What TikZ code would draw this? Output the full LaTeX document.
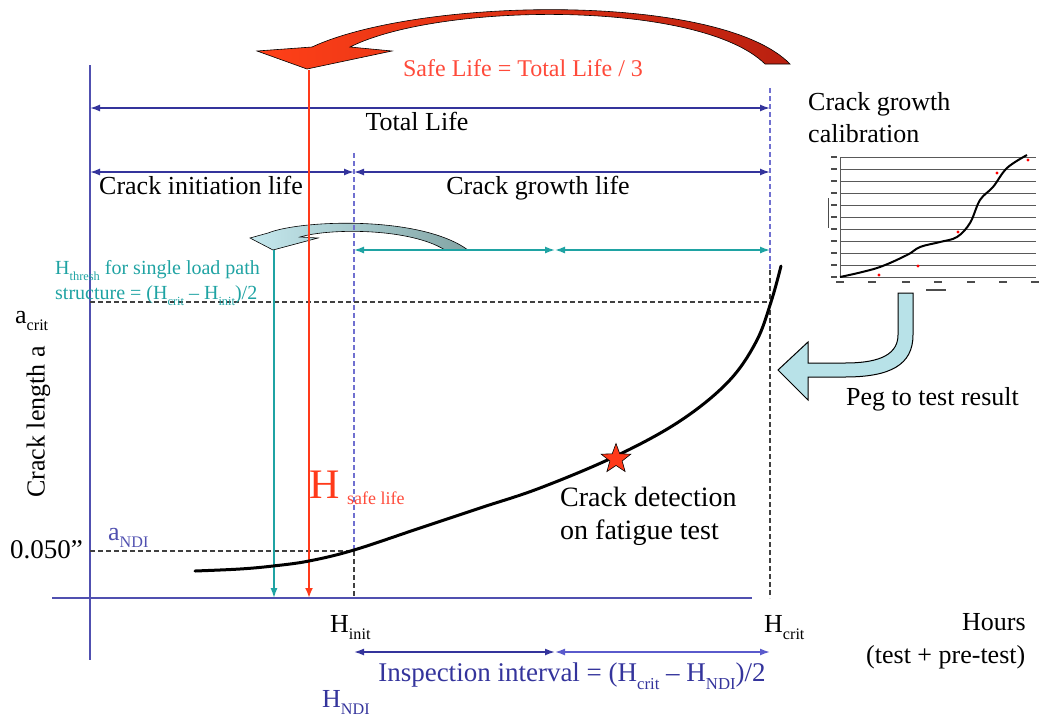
\documentclass[tikz,border=0pt]{standalone}
\usepackage{fontspec}
\setmainfont{Liberation Serif}
\usepackage{graphicx}
\usetikzlibrary{arrows.meta,shapes.geometric}
\definecolor{axblue}{HTML}{5050B0}
\definecolor{dimblue}{HTML}{34349C}
\definecolor{litblue}{HTML}{5A5ACC}
\definecolor{dashblue}{HTML}{7070D0}
\definecolor{tealc}{HTML}{1FA3A3}
\definecolor{redc}{HTML}{FF3A1A}
\definecolor{redtxt}{HTML}{FF4A3A}
\newcommand{\fs}[1]{\fontsize{#1}{#1}\selectfont}
\newcommand{\lsub}[1]{\raisebox{-0.28em}{\scalebox{0.62}{#1}}}
\begin{document}
\begin{tikzpicture}[x=1pt,y=-1pt,
  txt/.style={inner sep=0pt, text height=0.7em, text depth=0.2em, font=\fs{26}},
  dimline/.style={dimblue, line width=1.6pt, {Latex[length=10pt,width=7pt]}-{Latex[length=10pt,width=7pt]}},
  tealdim/.style={tealc, line width=1.4pt, {Latex[length=10pt,width=7pt]}-{Latex[length=10pt,width=7pt]}},
  axis/.style={axblue, line width=1.5pt},
  bdash/.style={dashblue, line width=1.1pt, dash pattern=on 5pt off 3pt},
  kdash/.style={black!75, line width=1.1pt, dash pattern=on 5pt off 3pt},
  grid/.style={black!65, line width=0.9pt},
  tick/.style={black!70, line width=1.3pt}
]
\useasboundingbox (0,0) rectangle (1039,721);

% ---- coordinates
\coordinate (ytop) at (90,65);   \coordinate (ybot) at (90,660);
\coordinate (xl) at (52,598);    \coordinate (xr) at (752,598);
\coordinate (TL1) at (90,108);   \coordinate (TL2) at (770,108);
\coordinate (CI1) at (90,172);   \coordinate (CIm) at (354,172); \coordinate (CG2) at (770,172);
\coordinate (T1) at (354,250);   \coordinate (Tm) at (555,250);  \coordinate (T2) at (770,250);
\coordinate (I1) at (354,652);   \coordinate (Im) at (555,652);  \coordinate (I2) at (770,652);
\coordinate (hitop) at (354,153); \coordinate (himid) at (354,551); \coordinate (hibot) at (354,598);
\coordinate (hctop) at (770,88);  \coordinate (hcmid) at (770,270); \coordinate (hcbot) at (770,598);
\coordinate (ac1) at (90,302);   \coordinate (ac2) at (770,302);
\coordinate (an1) at (90,551);
\coordinate (rstop) at (309,70); \coordinate (rsbot) at (309,598);
\coordinate (thtop) at (274,250); \coordinate (thbot) at (274,598);

% ---- teal curved arrow
\shadedraw[left color={rgb,255:red,197;green,232;blue,238}, right color={rgb,255:red,130;green,164;blue,164}, draw=black, line width=0.6pt]
  (250,238) -- (268,233) .. controls (300,220) and (420,215) .. (468,250)
  -- (445,250) .. controls (410,228) and (330,228) .. (300,237)
  -- (318,238) -- (273,250) -- cycle;

% ---- axes
\draw[axis] (ytop) -- (ybot);
\draw[axis] (xl) -- (xr);

% ---- dashed guides
\draw[bdash] (hitop) -- (himid);
\draw[kdash] (himid) -- (hibot);
\draw[bdash] (hctop) -- (hcmid);
\draw[kdash] (hcmid) -- (hcbot);
\draw[kdash] (ac1) -- (ac2);
\draw[kdash] (an1) -- (himid);

% ---- dimension arrows
\draw[dimline] (TL1) -- (TL2);
\draw[dimline] (CI1) -- (CIm);
\draw[dimline] (CIm) -- (CG2);
\draw[tealdim] (T1) -- (Tm);
\draw[tealdim] (Tm) -- (T2);
\draw[dimline] (I1) -- (Im);
\draw[dimline, litblue] (Im) -- (I2);

% ---- vertical arrows
\draw[tealc, line width=1.4pt, -{Latex[length=10pt,width=7pt]}] (thtop) -- (thbot);
\draw[redc, line width=2.4pt, -{Latex[length=10pt,width=8pt]}] (rstop) -- (rsbot);

% ---- crack growth curve
\draw[black, line width=3pt, line cap=round] plot[smooth, tension=0.6] coordinates {
  (195,571) (240,569) (273,566) (309,561) (354,550) (420,528) (480,508)
  (540,488) (616,456) (680,421) (728,382) (756,342) (771,302) (781,266)};
\node[star, star points=5, star point ratio=2.4, minimum size=31pt, inner sep=0pt,
  fill=redc, draw=black, line width=0.6pt] (star) at (616,459) {};

% ---- red curved arrow
\shadedraw[left color={rgb,255:red,255;green,64;blue,24}, right color={rgb,255:red,185;green,32;blue,16}, draw=black, line width=0.6pt]
  (257,51) -- (312,47) .. controls (420,-3) and (720,-8) .. (790,64)
  -- (765,64) .. controls (700,0) and (440,2) .. (350,47)
  -- (392,51) -- (307,69) -- cycle;

% ---- peg arrow
\draw[fill={rgb,255:red,184;green,226;blue,232}, draw=black, line width=1pt]
  (898,293) -- (898,335) .. controls (898,358) and (872,363) .. (845,363)
  -- (808,363) -- (808,342) -- (778,370) -- (808,400) -- (808,377) -- (845,377)
  .. controls (890,377) and (913,365) .. (913,335) -- (913,293) -- cycle;

% ---- inset calibration chart
\foreach \i in {0,...,10} {
  \draw[grid] (840,157+12*\i) -- (1036,157+12*\i);
  \draw[tick] (831,157+12*\i) -- (837,157+12*\i);
}
\draw[grid] (840,157) -- (840,278);
\foreach \x in {840,872,906,938,971,1003,1035} {
  \draw[tick] (\x-4,282) -- (\x+4,282);
}
\draw[tick] (926,290) -- (946,290);
\draw[black!70, line width=1pt] (828,198) -- (828,228);
\draw[black, line width=2pt] plot[smooth, tension=0.6] coordinates {
  (840,277) (877,268) (907,255) (920,247) (940,242) (957,237) (970,223)
  (980,200) (993,187) (1007,168) (1027,155)};
\foreach \p in {(879,275),(918,266),(958,232),(997,173),(1028,160)} {
  \fill[red] \p circle (1.6pt);
}

% ---- texts
\node[txt, font=\fs{24}, text=redtxt] (safelife) at (523,74) {Safe Life = Total Life / 3};
\node[txt] (total) at (417,128) {Total Life};
\node[txt] (cil) at (201,192) {Crack initiation life};
\node[txt] (cgl) at (538,192) {Crack growth life};
\node[txt, anchor=west] (cal1) at (808,108) {Crack growth};
\node[txt, anchor=west] (cal2) at (808,140) {calibration};
\node[txt, anchor=west] (peg) at (846,403) {Peg to test result};
\node[txt, anchor=west, font=\fs{28}] (det1) at (560,504) {Crack detection};
\node[txt, anchor=west, font=\fs{28}] (det2) at (560,537) {on fatigue test};
\node[txt, anchor=west] (hours) at (962,628) {Hours};
\node[txt, anchor=west] (pretest) at (866,661) {(test + pre-test)};
\node[txt, anchor=west] (hinit) at (330,630) {H\lsub{init}};
\node[txt, anchor=west] (hcrit) at (764,630) {H\lsub{crit}};
\node[txt, anchor=west, text=dimblue] (hndi) at (322,705) {H\lsub{NDI}};
\node[txt, font=\fs{27}, text=dimblue] (insp) at (572,679) {Inspection interval = (H\lsub{crit} – H\lsub{NDI})/2};
\node[txt, rotate=90] (ylab) at (42,422) {Crack length a};
\node[txt, anchor=west] (acrit) at (15,321) {a\lsub{crit}};
\node[txt, anchor=west, font=\fs{27}] (a050) at (10,556) {0.050”};
\node[txt, anchor=west, text=axblue] (andi) at (108,538) {a\lsub{NDI}};
\node[txt, anchor=west, font=\fs{20}, text=tealc] (thr1) at (55,272) {H\lsub{thresh} for single load path};
\node[txt, anchor=west, font=\fs{20}, text=tealc] (thr2) at (55,297) {structure = (H\lsub{crit} – H\lsub{init})/2};
\node[txt, anchor=west, font=\fs{42}, text=redc] (hsafe) at (309,496) {H};
\node[txt, anchor=west, font=\fs{18}, text=redtxt] (hsafesub) at (347,502) {safe life};
\end{tikzpicture}
\end{document}
